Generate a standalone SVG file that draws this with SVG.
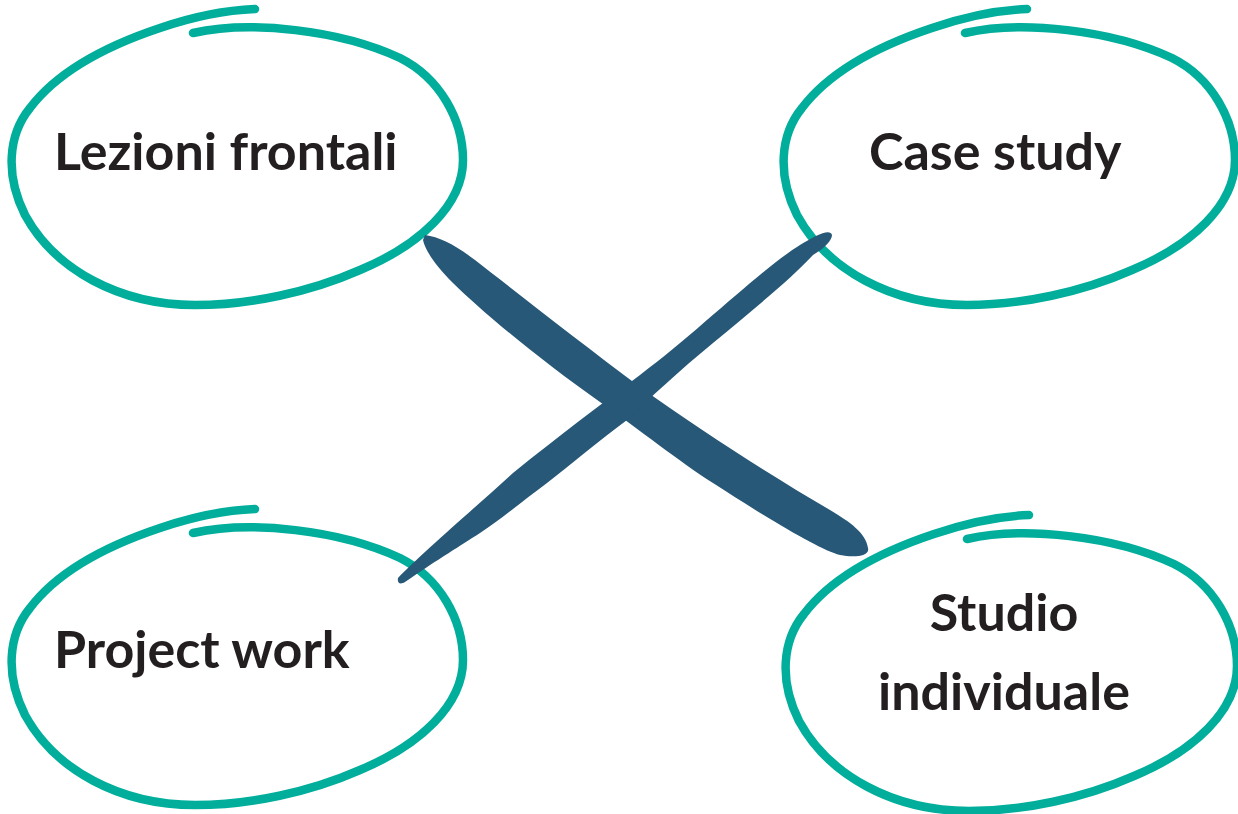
<svg xmlns="http://www.w3.org/2000/svg" xmlns:xlink="http://www.w3.org/1999/xlink" width="1238" height="814" viewBox="0 0 1238 814">
<style>
.ring{fill:none;stroke:#00ae9b;stroke-width:8.5;stroke-linecap:round;stroke-linejoin:round}
.lbl{font-family:Lato,"Noto Sans","Liberation Sans",sans-serif;font-weight:700;font-size:52px;fill:#231f20}
.stroke{fill:#275877}
</style>
<defs>
<path id="ring" class="ring" d="M 193 33 C 250 20, 340 30, 400 58 C 440 78, 463 120, 463 160 C 463 205, 420 245, 360 270 C 310 292, 250 305, 195 305 C 120 305, 55 270, 25 215 C 5 175, 8 135, 30 108 C 55 75, 100 48, 160 28 C 195 16, 230 10, 255 9"/>
</defs>
<rect width="1238" height="814" fill="#ffffff"/>
<g id="node-lezioni">
<use xlink:href="#ring" href="#ring"/>
<text class="lbl" x="54" y="170">Lezioni frontali</text>
</g>
<g id="node-case">
<use xlink:href="#ring" href="#ring" transform="translate(772,0)"/>
<text class="lbl" x="869" y="170">Case study</text>
</g>
<g id="node-project">
<use xlink:href="#ring" href="#ring" transform="translate(0,500)"/>
<text class="lbl" x="54" y="668">Project work</text>
</g>
<g id="node-studio">
<use xlink:href="#ring" href="#ring" transform="translate(774,506)"/>
<text class="lbl" text-anchor="middle" x="1004" y="631">Studio</text>
<text class="lbl" text-anchor="middle" x="1004" y="710">individuale</text>
</g>
<g id="connectors">
<path class="stroke" d="M 425 235 C 440 237, 455 245, 475 260 C 520 295, 580 342, 640 387 C 700 430, 770 475, 830 510 C 850 522, 866 533, 868 548 C 870 556, 855 558, 840 555 C 820 550, 770 520, 713 483 C 680 462, 640 430, 600 402 C 540 360, 480 310, 453 283 C 435 265, 425 250, 423 240 Z"/>
<path class="stroke" d="M 398 578 C 420 555, 470 512, 513 473 C 560 435, 600 405, 640 375 C 700 330, 760 270, 800 245 C 815 236, 830 228, 832 235 C 832 240, 825 248, 813 255 C 790 280, 750 312, 713 343 C 680 370, 650 398, 627 420 C 600 440, 570 465, 547 483 C 520 503, 500 520, 480 533 C 460 546, 440 558, 405 582 C 400 585, 397 583, 398 578 Z"/>
</g>
</svg>
